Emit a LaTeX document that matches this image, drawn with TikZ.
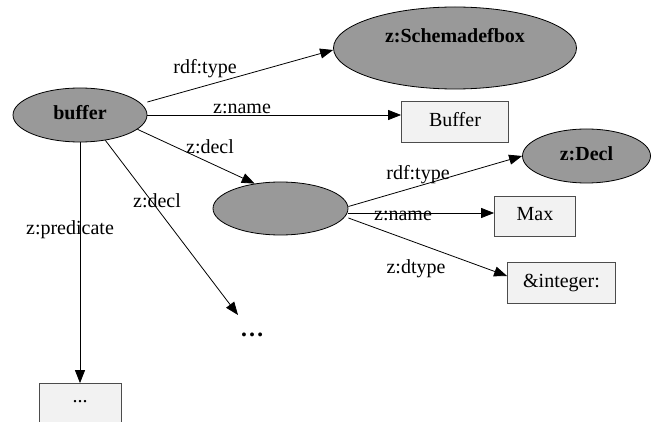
\documentclass[tikz,border=0pt]{standalone}
\usepackage{fontspec}
\setmainfont{Liberation Serif}
\usetikzlibrary{shapes.geometric,arrows.meta}
\begin{document}
\begin{tikzpicture}[x=1pt,y=-1pt,
  every node/.style={font=\rmfamily\fontsize{20}{24}\selectfont, inner sep=0pt},
  res/.style={ellipse, draw=black, fill=black!40, line width=0.8pt, font=\rmfamily\fontsize{20}{24}\selectfont\bfseries, text height=14pt, text depth=4pt},
  lit/.style={rectangle, draw=black!70, fill=black!5, line width=0.8pt, text height=14pt, text depth=4pt},
  lab/.style={anchor=base},
  arr/.style={-{Triangle[length=13pt,width=10pt]}, line width=0.8pt, black}]
\useasboundingbox (0,0) rectangle (651,422);
\clip (0,0) rectangle (651,422);
% nodes
\node[res, minimum width=134pt, minimum height=54pt] (buffer) at (80,115) {buffer};
\node[res, minimum width=243pt, minimum height=82pt, text height=0pt, text depth=10pt] (sch) at (455,48) {z:Schemadefbox};
\node[lit, minimum width=107pt, minimum height=41pt] (bufbox) at (455,122) {Buffer};
\node[res, minimum width=128pt, minimum height=54pt] (decl) at (586.5,156) {z:Decl};
\node[res, minimum width=135pt, minimum height=53pt] (blank) at (280.5,208.5) {};
\node[lit, minimum width=81pt, minimum height=40pt] (max) at (535,216) {Max};
\node[lit, minimum width=108pt, minimum height=41pt] (int) at (561.5,282.5) {\&integer:};
\node[lit, minimum width=82pt, minimum height=41pt, text height=0pt, text depth=3pt] (pred) at (80,404) {...};
\node[anchor=base, font=\rmfamily\fontsize{24}{28}\selectfont\bfseries] (dots) at (252,337) {…};
% edges
\draw[arr] ([yshift=13pt]buffer.east) -- ([yshift=-2pt]sch.west);
\draw[arr] (buffer.east) -- (buffer.east -| bufbox.west);
\draw[arr] (buffer.-14) -- (blank.136);
\draw[arr] (buffer.-45) -- ([xshift=-14pt,yshift=22pt]dots.base);
\draw[arr] (buffer.south) -- (pred.north);
\draw[arr] ([yshift=2pt]blank.east) -- (decl.west);
\draw[arr] ([yshift=-4.5pt]blank.east) -- ([yshift=-4.5pt]blank.east -| max.west);
\draw[arr] ([yshift=-9.5pt]blank.east) -- ([yshift=6.5pt]int.west);
% labels
\node[lab] (l1) at (205,74) {rdf:type};
\node[lab] (l2) at (242,114) {z:name};
\node[lab] (l3) at (210,154) {z:decl};
\node[lab] (l4) at (157,208) {z:decl};
\node[lab] (l5) at (70,235) {z:predicate};
\node[lab] (l6) at (418,180) {rdf:type};
\node[lab] (l7) at (403,221) {z:name};
\node[lab] (l8) at (416,274) {z:dtype};
\end{tikzpicture}
\end{document}
